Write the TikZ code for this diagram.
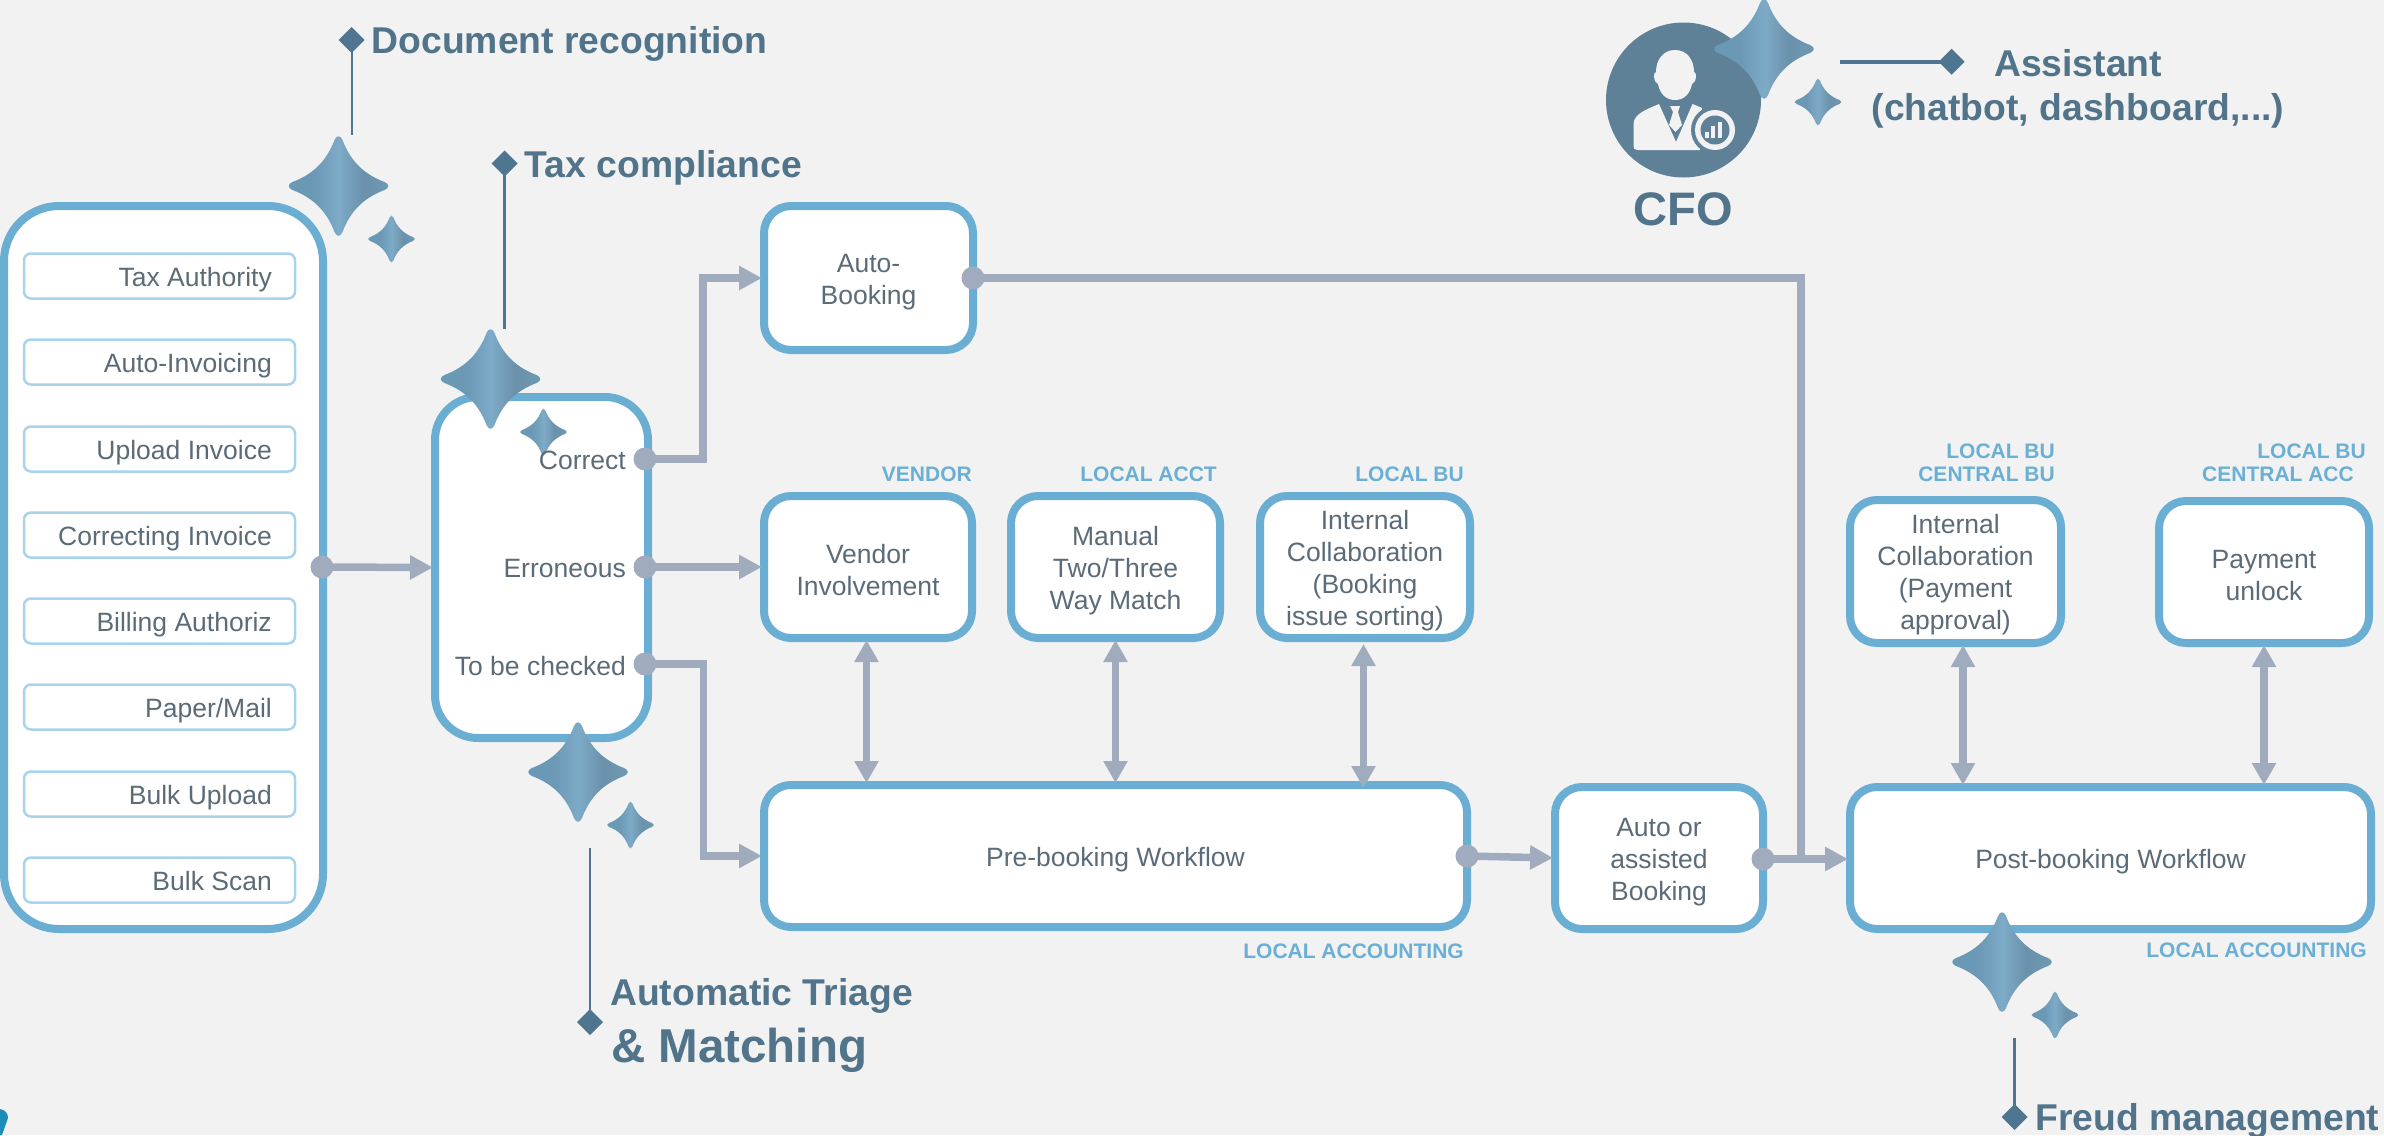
\documentclass[tikz,border=0pt]{standalone}
\usepackage{fontspec}
\setmainfont{Liberation Sans}
\usetikzlibrary{arrows.meta,shapes.geometric}
\definecolor{bgc}{HTML}{F2F2F2}
\definecolor{boxc}{HTML}{6BAED3}
\definecolor{thinc}{HTML}{A8D3EC}
\definecolor{flowc}{HTML}{A0ACBE}
\definecolor{txtc}{HTML}{5B6B78}
\definecolor{tagc}{HTML}{6AAFD6}
\definecolor{headc}{HTML}{51748A}
\definecolor{pinc}{HTML}{4F7590}
\definecolor{cfoc}{HTML}{5E8198}
\definecolor{tealc}{HTML}{1E8CB8}
\pgfdeclarehorizontalshading{spark}{100bp}{rgb(0bp)=(0.41,0.60,0.71); rgb(25bp)=(0.41,0.60,0.71); rgb(38bp)=(0.42,0.60,0.71); rgb(50bp)=(0.49,0.67,0.78); rgb(62bp)=(0.42,0.57,0.67); rgb(75bp)=(0.43,0.60,0.70); rgb(100bp)=(0.43,0.60,0.70)}
\newcommand{\sparkle}[3]{\shade[shading=spark,shift={(#1,#2)},scale=#3] (4,-46) .. controls (12,-25) and (25,-12) .. (46,-4) .. controls (51,-2) and (51,2) .. (46,4) .. controls (25,12) and (12,25) .. (4,46) .. controls (2,51) and (-2,51) .. (-4,46) .. controls (-12,25) and (-25,12) .. (-46,4) .. controls (-51,2) and (-51,-2) .. (-46,-4) .. controls (-25,-12) and (-12,-25) .. (-4,-46) .. controls (-2,-51) and (2,-51) .. (4,-46) -- cycle;}
\newcommand{\firstln}{\rule{0pt}{26pt}}
\tikzset{
  wfbox/.style={draw=boxc,line width=8pt,fill=white,inner sep=0pt,outer sep=0pt,align=center,text=txtc,font=\fontsize{26.5}{32}\selectfont,rounded corners=27pt},
  srcitem/.style={draw=thinc,line width=2.5pt,fill=white,inner sep=0pt,outer sep=0pt,minimum width=271pt,minimum height=45pt,rounded corners=7pt},
  srctext/.style={anchor=base east,inner sep=0pt,text=txtc,font=\fontsize{26.5}{32}\selectfont},
  tag/.style={anchor=base east,inner sep=0pt,text=tagc,font=\fontsize{21}{24}\selectfont\bfseries},
  feature/.style={anchor=base west,inner sep=0pt,text=headc,font=\fontsize{37.3}{44}\selectfont\bfseries},
  port/.style={circle,fill=flowc,inner sep=0pt,minimum size=23pt,outer sep=0pt},
  flowline/.style={draw=flowc,line width=7.5pt,line join=miter},
  flow/.style={flowline,-{Triangle[length=23pt,width=23pt]},shorten >=2pt},
  biflow/.style={flowline,{Triangle[length=22pt,width=23pt]}-{Triangle[length=22pt,width=23pt]},shorten >=2pt,shorten <=2pt},
  pin/.style={diamond,fill=pinc,inner sep=0pt,minimum width=26pt,minimum height=26pt,outer sep=0pt},
  pinline/.style={draw=pinc,line width=3pt}
}
\begin{document}
\begin{tikzpicture}[x=1pt,y=-1pt]
\useasboundingbox (0,0) rectangle (2384,1135);
\fill[bgc] (0,0) rectangle (2384,1135);
% teal fragment in the lower-left corner
\fill[tealc] (0,1109) .. controls (5,1110) and (8,1113) .. (8,1118) -- (2,1135) -- (0,1135) -- cycle;

% source panel
\node[wfbox,rounded corners=55pt,minimum width=319pt,minimum height=723pt] (sources) at (163.5,567.5) {};
\node[srcitem] (s1) at (159.5,276) {};
\node[srcitem] (s2) at (159.5,362) {};
\node[srcitem] (s3) at (159.5,449) {};
\node[srcitem] (s4) at (159.5,535) {};
\node[srcitem] (s5) at (159.5,621) {};
\node[srcitem] (s6) at (159.5,707) {};
\node[srcitem] (s7) at (159.5,794) {};
\node[srcitem] (s8) at (159.5,880) {};

% triage panel
\node[wfbox,rounded corners=43pt,minimum width=213pt,minimum height=341pt] (triage) at (541.5,567.5) {};

% workflow boxes
\node[wfbox,minimum width=209pt,minimum height=144pt] (autobook) at (868.5,278) {\firstln Auto-\\Booking};
\node[wfbox,minimum width=208pt,minimum height=142pt] (vendor) at (868,567) {\firstln Vendor\\Involvement};
\node[wfbox,minimum width=209pt,minimum height=142pt] (manual) at (1115.5,567) {\firstln Manual\\Two/Three\\Way Match};
\node[wfbox,minimum width=210pt,minimum height=142pt] (collabA) at (1365,567) {\firstln Internal\\Collaboration\\(Booking\\issue sorting)};
\node[wfbox,minimum width=703pt,minimum height=142pt] (pre) at (1115.5,856) {\firstln Pre-booking Workflow};
\node[wfbox,minimum width=208pt,minimum height=142pt] (assisted) at (1659,858) {\firstln Auto or\\assisted\\Booking};
\node[wfbox,minimum width=211pt,minimum height=143pt] (collabB) at (1955.5,571.5) {\firstln Internal\\Collaboration\\(Payment\\approval)};
\node[wfbox,minimum width=210pt,minimum height=142pt] (unlock) at (2264,572) {\firstln Payment\\unlock};
\node[wfbox,minimum width=521pt,minimum height=142pt] (post) at (2110.5,858) {\firstln Post-booking Workflow};

% ports
\node[port] (pSrc) at (322,567) {};
\node[port] (pCorrect) at (645,459) {};
\node[port] (pErr) at (645,567) {};
\node[port] (pCheck) at (645,664) {};
\node[port] (pAuto) at (973,278) {};
\node[port] (pPre) at (1467,856) {};
\node[port] (pAssist) at (1763,859) {};
\coordinate (merge) at (1800.5,859);

% connectors
\draw[flow] (pSrc.center) -- (triage.west);
\draw[flow] (pCorrect.center) -- ++(58,0) |- (autobook.west);
\draw[flow] (pErr.center) -- (vendor.west);
\draw[flow] (pCheck.center) -- ++(58.5,0) |- (pre.west);
\draw[flowline,line width=8pt] (pAuto.center) -| (merge);
\draw[flow] (pPre.center) -- (assisted.west);
\draw[flow] (pAssist.center) -- (post.west |- pAssist);
\draw[biflow] ([xshift=-1.5pt]vendor.south) -- ([xshift=-1.5pt]vendor.south |- pre.north);
\draw[biflow] (manual.south) -- (manual.south |- pre.north);
\draw[biflow] ([xshift=-1.5pt,yshift=-4pt]collabA.south) -- ([xshift=-1.5pt,yshift=-5pt]collabA.south |- pre.north);
\draw[biflow] ([xshift=7.5pt]collabB.south) -- ([xshift=7.5pt]collabB.south |- post.north);
\draw[biflow] (unlock.south) -- (unlock.south |- post.north);

% CFO badge
\node[circle,fill=cfoc,minimum size=155pt,inner sep=0pt] (cfo) at (1683.5,100) {};
\fill[bgc] (1675,50) .. controls (1663,50) and (1656,60) .. (1656,72) .. controls (1653,72) and (1653,82) .. (1658,84) .. controls (1660,94) and (1666,100) .. (1675,100) .. controls (1684,100) and (1690,94) .. (1692,84) .. controls (1697,82) and (1697,72) .. (1694,72) .. controls (1694,60) and (1687,50) .. (1675,50) -- cycle;
\fill[bgc] (1659,104) -- (1676,142) -- (1692.5,104) -- (1702,108) -- (1700,150) -- (1637,150) .. controls (1634,150) and (1633.5,148) .. (1633.5,146) -- (1633.5,124) .. controls (1634,114) and (1645,110) .. (1659,104) -- cycle;
\fill[bgc] (1670,106) -- (1680,106) -- (1678,112) -- (1682,125) -- (1675.5,132) -- (1669,125) -- (1673,112) -- cycle;
\fill[cfoc] (1715,130) circle (24);
\fill[bgc] (1715,130) circle (20);
\fill[cfoc] (1715,130) circle (14.5);
\fill[bgc] (1705,132) rectangle (1709,138);
\fill[bgc] (1711,126) rectangle (1715,138);
\fill[bgc] (1718,122) rectangle (1722,138);

% sparkles
\sparkle{338.5}{186}{1}
\sparkle{391.5}{239}{0.47}
\sparkle{490.5}{379}{1}
\sparkle{543.5}{432}{0.47}
\sparkle{578}{772}{1}
\sparkle{630.5}{825}{0.47}
\sparkle{2002}{962}{1}
\sparkle{2055}{1015}{0.47}
\sparkle{1764}{49}{1}
\sparkle{1818}{102}{0.47}

% source labels
\node[srctext] (t1) at (272,286) {Tax Authority};
\node[srctext] (t2) at (272,372) {Auto-Invoicing};
\node[srctext] (t3) at (272,459) {Upload Invoice};
\node[srctext] (t4) at (272,545) {Correcting Invoice};
\node[srctext] (t5) at (272,631) {Billing Authoriz};
\node[srctext] (t6) at (272,717) {Paper/Mail};
\node[srctext] (t7) at (272,804) {Bulk Upload};
\node[srctext] (t8) at (272,890) {Bulk Scan};
% triage labels
\node[srctext] (o1) at (626,469) {Correct};
\node[srctext] (o2) at (626,577) {Erroneous};
\node[srctext] (o3) at (626,675) {To be checked};

% responsibility tags
\node[tag] (g1) at (972,481.5) {VENDOR};
\node[tag] (g2) at (1217,481.5) {LOCAL ACCT};
\node[tag] (g3) at (1464,481.5) {LOCAL BU};
\node[tag] (g4) at (1464,958.5) {LOCAL ACCOUNTING};
\node[tag] (g5) at (2055,458.5) {LOCAL BU};
\node[tag] (g6) at (2055,481.5) {CENTRAL BU};
\node[tag] (g7) at (2366,458.5) {LOCAL BU};
\node[tag] (g8) at (2354,481.5) {CENTRAL ACC};
\node[tag] (g9) at (2367,957.5) {LOCAL ACCOUNTING};

% feature call-outs
\node[pin] (dDoc) at (351.5,40) {};
\coordinate (eDoc) at (351.5,135);
\draw[pinline,line width=2pt] (dDoc.center) -- (eDoc);
\node[feature] (fDoc) at (371.5,53.5) {Document recognition};

\node[pin] (dTax) at (504.5,163.5) {};
\coordinate (eTax) at (504.5,328.5);
\draw[pinline] (dTax.center) -- (eTax);
\node[feature] (fTax) at (524.5,177) {Tax compliance};

\node[pin] (dAsst) at (1951.6,61.7) {};
\coordinate (eAsst) at (1840,61.7);
\draw[pinline,line width=4pt] (dAsst.center) -- (eAsst);
\node[feature,anchor=base] (fAsst) at (2078,76) {Assistant};
\node[feature,anchor=base] (fAsst2) at (2078,120) {(chatbot, dashboard,...)};

\node[pin] (dTri) at (590,1022) {};
\coordinate (eTri) at (590,848);
\draw[pinline,line width=2.5pt] (dTri.center) -- (eTri);
\node[feature] (fTri) at (610,1005) {Automatic Triage};
\node[feature,font=\fontsize{47.5}{54}\selectfont\bfseries] (fTri2) at (611,1062) {\& Matching};

\node[pin] (dFr) at (2014.6,1117) {};
\coordinate (eFr) at (2014.6,1038);
\draw[pinline] (dFr.center) -- (eFr);
\node[feature] (fFr) at (2035,1130) {Freud management};

\node[feature,anchor=base,text=headc,font=\fontsize{47}{54}\selectfont\bfseries] (cfoL) at (1683,225) {CFO};
\end{tikzpicture}
\end{document}
